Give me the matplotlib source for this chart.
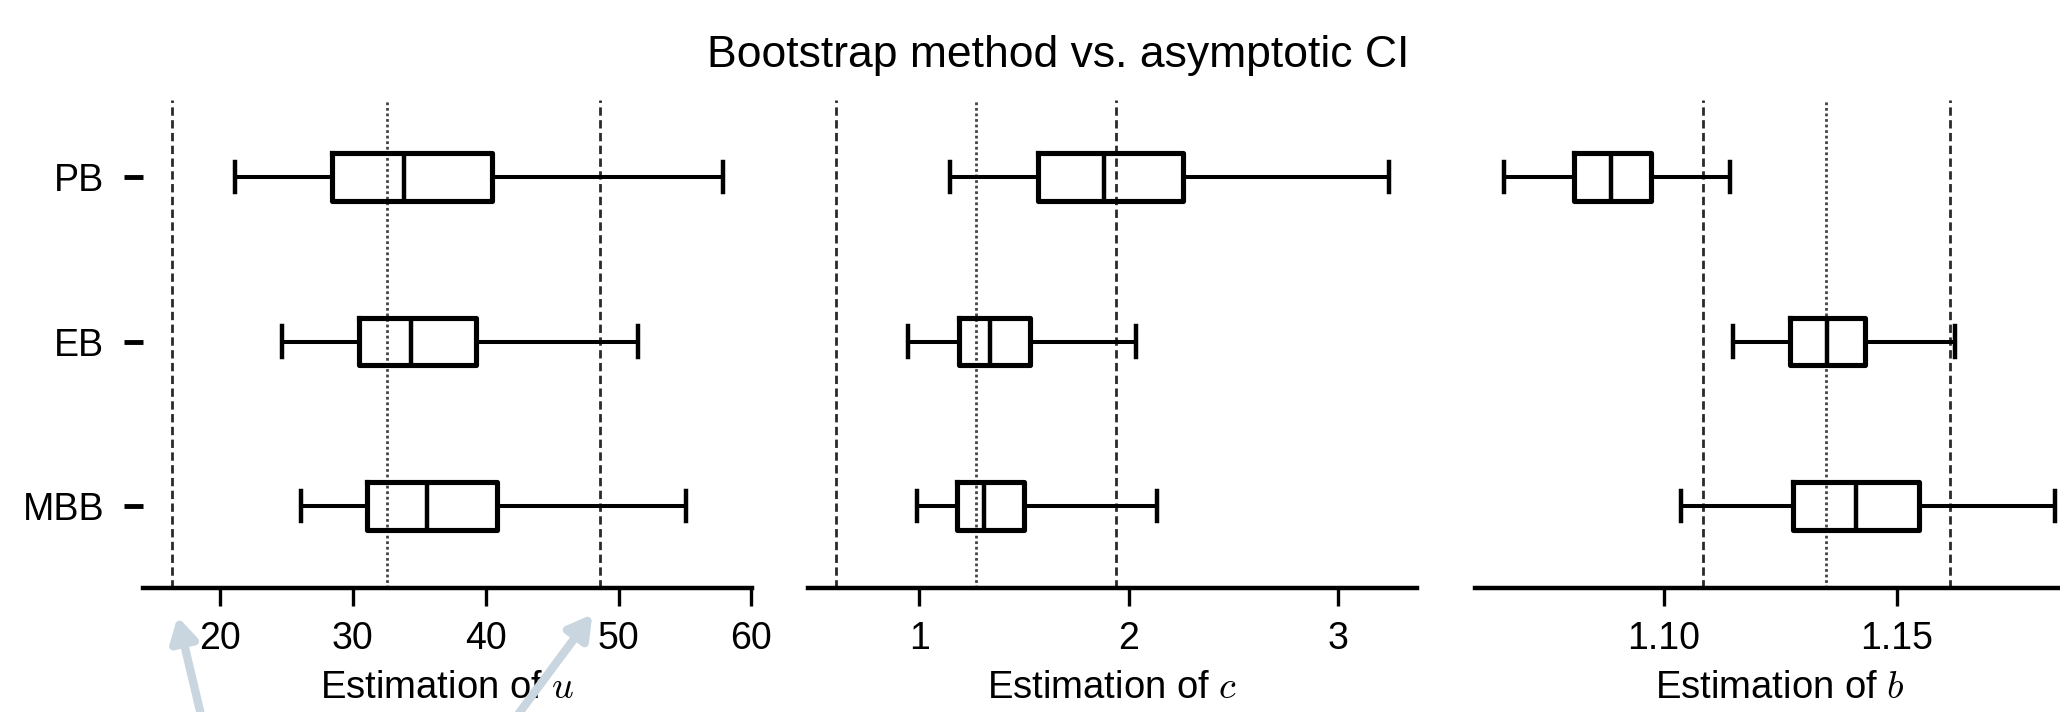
import matplotlib
matplotlib.use('Agg')
import matplotlib.pyplot as plt
from matplotlib.patches import FancyArrowPatch

plt.rcParams['font.family'] = ['Liberation Sans', 'DejaVu Sans']
plt.rcParams['mathtext.fontset'] = 'cm'

# Bootstrap methods (rows)
methods = ['PB', 'EB', 'MBB']

# Estimation of u
u_whislo = [21.15, 24.7, 26.1]
u_q1 = [28.4, 30.46, 31.03]
u_med = [33.84, 34.4, 35.57]
u_q3 = [40.47, 39.3, 40.85]
u_whishi = [57.9, 51.5, 55.1]
u_ci = [16.4, 32.55, 48.64]  # asymptotic lower, estimate, upper

# Estimation of c
c_whislo = [1.145, 0.948, 0.99]
c_q1 = [1.565, 1.187, 1.178]
c_med = [1.882, 1.337, 1.31]
c_q3 = [2.259, 1.53, 1.50]
c_whishi = [3.244, 2.035, 2.135]
c_ci = [0.603, 1.27, 1.94]

# Estimation of b
b_whislo = [1.0656, 1.1149, 1.1037]
b_q1 = [1.0807, 1.1271, 1.1278]
b_med = [1.0886, 1.135, 1.1412]
b_q3 = [1.0971, 1.1432, 1.1547]
b_whishi = [1.1142, 1.1626, 1.1839]
b_ci = [1.1083, 1.1348, 1.1614]

u_ticks = [20, 30, 40, 50, 60]
c_ticks = [1, 2, 3]
b_ticks = [1.10, 1.15]
b_ticklabels = ['1.10', '1.15']

panels = [
    (r'Estimation of $u$', u_whislo, u_q1, u_med, u_q3, u_whishi, u_ci,
     (14.2, 60.05), u_ticks, [str(t) for t in u_ticks]),
    (r'Estimation of $c$', c_whislo, c_q1, c_med, c_q3, c_whishi, c_ci,
     (0.468, 3.377), c_ticks, [str(t) for t in c_ticks]),
    (r'Estimation of $b$', b_whislo, b_q1, b_med, b_q3, b_whishi, b_ci,
     (1.0594, 1.1902), b_ticks, b_ticklabels),
]

W, H = 2060, 712
fig = plt.figure(figsize=(W / 100, H / 100), dpi=100)

lefts = [143, 808, 1475]
ax_w = 609
ax_top, ax_bot = 100, 588

for i, (label, wlo, q1, med, q3, whi, ci, xlim, ticks, ticklabels) in enumerate(panels):
    ax = fig.add_axes([lefts[i] / W, (H - ax_bot) / H, ax_w / W, (ax_bot - ax_top) / H])

    stats = []
    for k in range(len(methods)):
        stats.append({'whislo': wlo[k], 'q1': q1[k], 'med': med[k], 'q3': q3[k],
                      'whishi': whi[k], 'fliers': [], 'label': methods[k]})

    # asymptotic CI: lower bound, point estimate, upper bound
    ax.axvline(ci[0], color='#2a2a2a', lw=2, ls=(0, (3, 1.6)), zorder=1)
    ax.axvline(ci[1], color='#444444', lw=2, ls=(0, (1, 1)), zorder=1)
    ax.axvline(ci[2], color='#2a2a2a', lw=2, ls=(0, (3, 1.6)), zorder=1)

    ax.bxp(stats, positions=range(len(methods)), vert=False, widths=0.29,
           capwidths=0.185, showfliers=False,
           boxprops=dict(color='black', lw=3.7),
           medianprops=dict(color='black', lw=3.2),
           whiskerprops=dict(color='black', lw=2.9),
           capprops=dict(color='black', lw=3.2))

    ax.set_ylim(2.5, -0.47)
    ax.set_xlim(*xlim)
    ax.set_xticks(ticks)
    ax.set_xticklabels(ticklabels)
    ax.tick_params(axis='x', length=13, width=2.4, labelsize=27, pad=11)
    ax.set_xlabel(label, fontsize=27.5, labelpad=9)

    for s in ['top', 'right', 'left']:
        ax.spines[s].set_visible(False)
    ax.spines['bottom'].set_linewidth(3.2)
    ax.patch.set_alpha(0)

    if i == 0:
        ax.set_yticks(range(len(methods)))
        ax.set_yticklabels(methods)
        ax.tick_params(axis='y', length=14, width=3.5, labelsize=27, pad=14)
    else:
        ax.set_yticks([])

fig.suptitle('Bootstrap method vs. asymptotic CI', x=0.5136, y=1 - 67 / H,
             va='baseline', fontsize=32)

# overlaid pointer arrows below the first panel (pixel coords from top)
for tail, tip in [((205, 732), (177, 614)), ((505, 732), (594, 612))]:
    fig.add_artist(FancyArrowPatch(
        (tail[0] / W, (H - tail[1]) / H), (tip[0] / W, (H - tip[1]) / H),
        transform=fig.transFigure, arrowstyle='-|>,head_length=14,head_width=8',
        mutation_scale=1, color='#c9d6df', lw=6, zorder=10))

fig.savefig('out.png', dpi=100, facecolor='white')
